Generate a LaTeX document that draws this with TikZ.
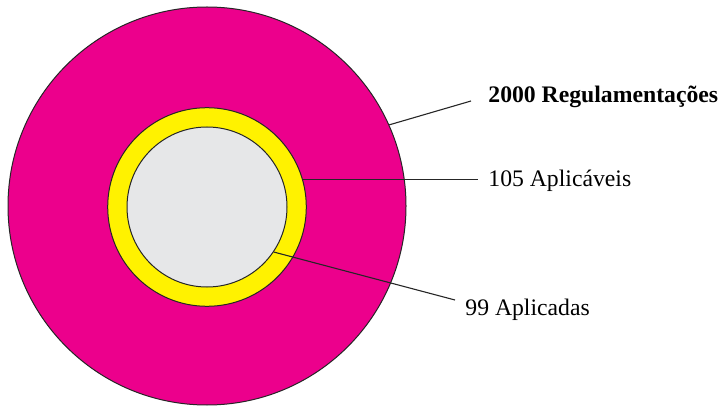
\documentclass[tikz,border=0pt]{standalone}
\usepackage{fontspec}
\setmainfont{Liberation Serif}
\usetikzlibrary{positioning}
\definecolor{ringMagenta}{RGB}{236,0,140}
\definecolor{ringYellow}{RGB}{255,242,0}
\definecolor{coreGrey}{RGB}{230,231,232}

\begin{document}
\begin{tikzpicture}[x=0.5pt, y=-0.5pt,
  ring/.style={circle, draw=black!85, line width=0.5pt, inner sep=0pt},
  lbl/.style={anchor=base west, inner sep=0pt, font=\fontsize{11.85}{14}\selectfont},
  lead/.style={draw=black!85, line width=0.55pt}]

  \useasboundingbox (0,0) rectangle (722,406);

  % Nodes
  \node (outer) [ring, fill=ringMagenta, minimum size=199pt] at (207,206) {};
  \node (middle) [ring, fill=ringYellow, minimum size=99.3pt] at (207,207) {};
  \node (inner) [ring, fill=coreGrey, minimum size=80pt] at (207,207) {};

  \node (regLabel) [lbl] at (488,103) {\bfseries 2000 Regulamentações};
  \node (aplLabel) [lbl] at (488,187) {105 Aplicáveis};
  \node (aplcLabel) [lbl] at (465,315) {99 Aplicadas};

  \coordinate (regEnd) at (471,101);
  \coordinate (aplEnd) at (478,177);
  \coordinate (aplcEnd) at (455,300);

  % Lines
  \draw [lead] (outer.24.7) -- (regEnd);
  \draw [lead] (middle.16.7) -- (middle.16.7 -| aplEnd);
  \draw [lead] (inner.-34.5) -- (aplcEnd);
\end{tikzpicture}
\end{document}
